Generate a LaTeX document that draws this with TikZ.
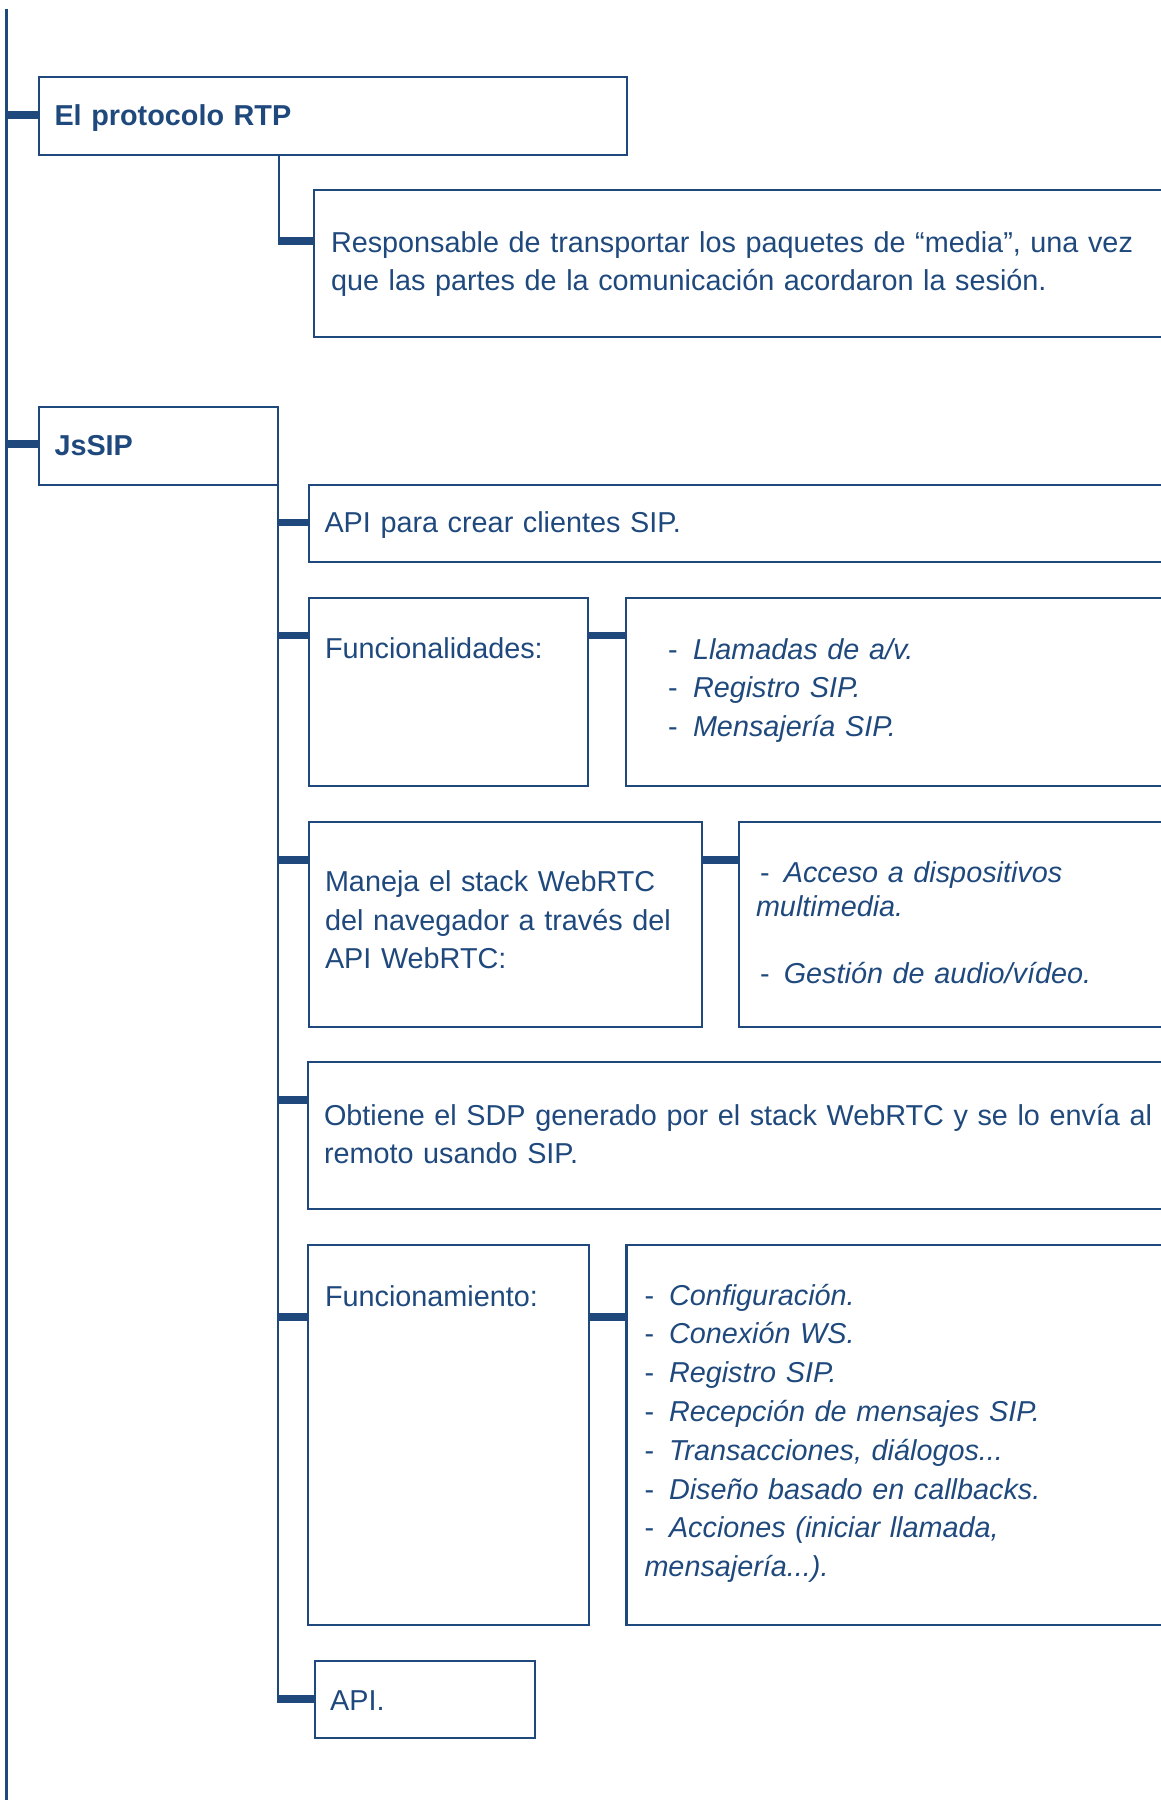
\documentclass[tikz,border=0pt]{standalone}
\usepackage{fontspec}
\setmainfont{Liberation Sans}
\usetikzlibrary{calc}
\definecolor{navy}{HTML}{1F497D}

\begin{document}
\begin{tikzpicture}[x=1pt,y=-1pt,
  frame/.style={draw=navy, line width=2.1pt, inner ysep=0pt, outer sep=0pt,
    align=left, text=navy, anchor=north west,
    font=\fontsize{28.8}{38.6}\selectfont},
  heading/.style={frame, font=\fontsize{28.8}{38.6}\selectfont\bfseries},
  link/.style={draw=navy, line width=2.1pt},
  bar/.style={draw=navy, line width=7.3pt},
]
\useasboundingbox (0,0) rectangle (1161,1800);
\clip (0,0) rectangle (1161,1800);

\newcommand{\dashitem}[2]{\makebox[#1][l]{-}\textit{#2}}

% ---- top level ----
\node[heading, inner xsep=15.5pt, text width=557pt, text height=48pt, text depth=30pt]
  (rtp) at (39,77) {El protocolo RTP};
\node[frame, inner xsep=17pt, text width=870pt, text height=62pt, text depth=85pt]
  (rtpdesc) at (314,190)
  {Responsable de transportar los paquetes de “media”, una vez\\
   que las partes de la comunicación acordaron la sesión.};

\node[heading, inner xsep=15.5pt, text width=208pt, text height=48pt, text depth=30pt]
  (jssip) at (39,407) {JsSIP};

% ---- JsSIP children ----
\node[frame, inner xsep=15.5pt, text width=870pt, text height=47.7pt, text depth=29.3pt]
  (api1) at (309,485) {API para crear clientes SIP.};

\node[frame, inner xsep=16pt, text width=247pt, text height=60pt, text depth=128pt]
  (func) at (309,598) {Funcionalidades:};
\node[frame, inner xsep=42pt, text width=520pt, text height=61pt, text depth=127pt]
  (funclist) at (626,598)
  {\dashitem{25pt}{Llamadas de a/v.}\\
   \dashitem{25pt}{Registro SIP.}\\
   \dashitem{25pt}{Mensajería SIP.}};

\node[frame, inner xsep=16pt, text width=361pt, text height=69.7pt, text depth=135.3pt]
  (maneja) at (309,822)
  {Maneja el stack WebRTC\\ del navegador a través del\\ API WebRTC:};
\node[frame, inner xsep=17pt, text width=440pt, text height=60.7pt, text depth=144.3pt,
      font=\fontsize{28.8}{34}\selectfont]
  (manejalist) at (739,822)
  {\hspace*{4pt}\dashitem{23.8pt}{Acceso a dispositivos}\\
   \textit{multimedia.}\\[32.3pt]
   \hspace*{4pt}\dashitem{23.8pt}{Gestión de audio/vídeo.}};

\node[frame, inner xsep=16pt, text width=870pt, text height=63pt, text depth=84pt]
  (obtiene) at (308,1062)
  {Obtiene el SDP generado por el stack WebRTC y se lo envía al\\ remoto usando SIP.};

\node[frame, inner xsep=17pt, text width=247pt, text height=61pt, text depth=319pt]
  (funcion) at (308,1245) {Funcionamiento:};
\node[frame, inner xsep=18pt, text width=540pt, text height=60pt, text depth=320pt,
      font=\fontsize{28.8}{38.8}\selectfont]
  (funcionlist) at (626.5,1245)
  {\dashitem{24.5pt}{Configuración.}\\
   \dashitem{24.5pt}{Conexión WS.}\\
   \dashitem{24.5pt}{Registro SIP.}\\
   \dashitem{24.5pt}{Recepción de mensajes SIP.}\\
   \dashitem{24.5pt}{Transacciones, diálogos...}\\
   \dashitem{24.5pt}{Diseño basado en callbacks.}\\
   \dashitem{24.5pt}{Acciones (iniciar llamada,}\\
   \textit{mensajería...).}};

\node[frame, inner xsep=15.5pt, text width=189.4pt, text height=49pt, text depth=28pt]
  (api2) at (314.6,1661) {API.};

% ---- connectors ----
\coordinate (trunktop) at (6.5,9);
\coordinate (trunkbot) at (6.5,1810);
\draw[link] (trunktop) -- (trunkbot);

\coordinate (rtpin) at ($(rtp.north west)+(0,38)$);
\coordinate (jssipin) at ($(jssip.north west)+(0,37)$);
\draw[bar] ($(trunktop |- rtpin)+(-1.05,0)$) -- (rtpin);
\draw[bar] ($(trunktop |- jssipin)+(-1.05,0)$) -- (jssipin);

\coordinate (rtpdrop) at ($(rtp.south west)+(240,0)$);
\coordinate (descin) at ($(rtpdesc.north west)+(0,51)$);
\draw[link] (rtpdrop) -- ($(rtpdrop |- descin)+(0,3.65)$);
\draw[bar] ($(rtpdrop |- descin)+(-1.05,0)$) -- (descin);

\coordinate (jtrunk) at (jssip.south east);
\coordinate (api1in) at ($(api1.north west)+(0,37.7)$);
\coordinate (funcin) at ($(func.north west)+(0,37.7)$);
\coordinate (manejain) at ($(maneja.north west)+(0,38)$);
\coordinate (obtienein) at ($(obtiene.north west)+(0,38)$);
\coordinate (funcionin) at ($(funcion.north west)+(0,72)$);
\coordinate (api2in) at ($(api2.north west)+(0,38)$);
\draw[link] (jtrunk) -- ($(jtrunk |- api2in)+(0,3.65)$);
\foreach \c in {api1in,funcin,manejain,obtienein,funcionin,api2in}
  \draw[bar] ($(jtrunk |- \c)+(-1.05,0)$) -- (\c);

% ---- sub-bars to the detail boxes ----
\coordinate (funcout) at ($(func.north east)+(0,37.7)$);
\coordinate (manejaout) at ($(maneja.north east)+(0,38)$);
\coordinate (funcionout) at ($(funcion.north east)+(0,72)$);
\draw[bar] (funcout) -- (funcout -| funclist.west);
\draw[bar] (manejaout) -- (manejaout -| manejalist.west);
\draw[bar] (funcionout) -- (funcionout -| funcionlist.west);
\end{tikzpicture}
\end{document}
